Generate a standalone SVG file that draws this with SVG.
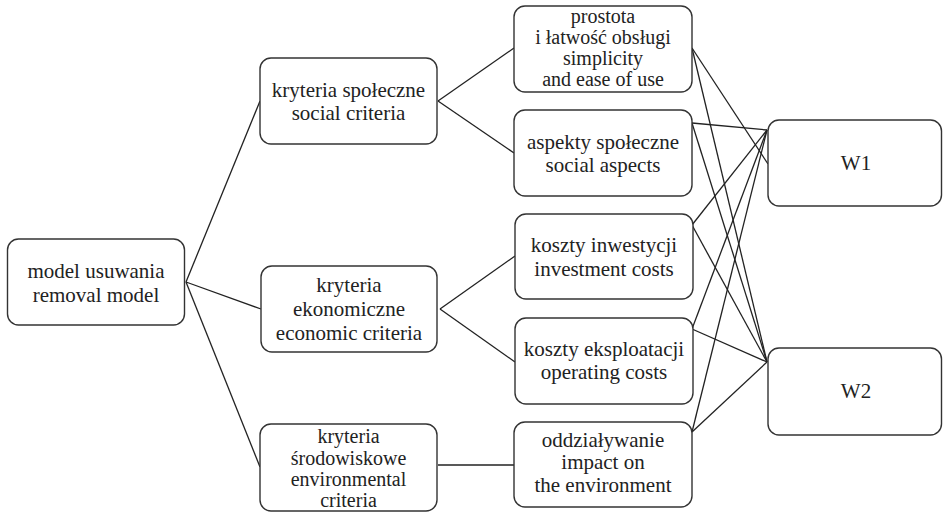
<svg xmlns="http://www.w3.org/2000/svg" width="943" height="513" viewBox="0 0 943 513">
<style>
.box{fill:#fff;stroke:#333;stroke-width:1.4}
text{font-family:'Liberation Serif','DejaVu Serif',serif;font-size:21px;fill:#222;text-anchor:middle}
.s{font-size:20px}
.c{stroke:#222;stroke-width:1.3;fill:none}
</style>
<rect width="943" height="513" fill="#fff"/>
<g id="connectors">
<line class="c" x1="186" y1="282" x2="260" y2="101"/>
<line class="c" x1="186" y1="282" x2="261" y2="309"/>
<line class="c" x1="186" y1="282" x2="260" y2="467"/>
<line class="c" x1="438" y1="101" x2="514" y2="48"/>
<line class="c" x1="438" y1="101" x2="514" y2="153"/>
<line class="c" x1="440" y1="309" x2="515" y2="256"/>
<line class="c" x1="440" y1="309" x2="515" y2="362"/>
<line class="c" x1="438" y1="465" x2="514" y2="465"/>
<line class="c" x1="692" y1="48" x2="768" y2="164"/>
<line class="c" x1="692" y1="48" x2="767" y2="362"/>
<line class="c" x1="692" y1="123" x2="767" y2="130"/>
<line class="c" x1="692" y1="123" x2="767" y2="362"/>
<line class="c" x1="692" y1="225" x2="767" y2="130"/>
<line class="c" x1="692" y1="225" x2="767" y2="362"/>
<line class="c" x1="692" y1="329" x2="767" y2="130"/>
<line class="c" x1="692" y1="329" x2="767" y2="362"/>
<line class="c" x1="692" y1="432" x2="767" y2="130"/>
<line class="c" x1="692" y1="432" x2="767" y2="362"/>
</g>
<g id="root">
<rect class="box" x="7.5" y="239" width="177" height="86" rx="11"/>
<text x="96" y="278">model usuwania</text>
<text x="96" y="302">removal model</text>
</g>
<g id="social">
<rect class="box" x="260" y="58" width="177" height="86" rx="11"/>
<text x="348.5" y="97">kryteria społeczne</text>
<text x="348.5" y="120">social criteria</text>
</g>
<g id="economic">
<rect class="box" x="261" y="266" width="176" height="86" rx="11"/>
<text x="349" y="292">kryteria</text>
<text x="349" y="316">ekonomiczne</text>
<text x="349" y="340">economic criteria</text>
</g>
<g id="environmental">
<rect class="box" x="260" y="424" width="177" height="87" rx="11"/>
<text class="s" x="348.5" y="443">kryteria</text>
<text class="s" x="348.5" y="465">środowiskowe</text>
<text class="s" x="348.5" y="486">environmental</text>
<text class="s" x="348.5" y="507">criteria</text>
</g>
<g id="simplicity">
<rect class="box" x="514" y="6" width="178" height="86" rx="11"/>
<text class="s" x="603" y="23">prostota</text>
<text class="s" x="603" y="44">i łatwość obsługi</text>
<text class="s" x="603" y="65">simplicity</text>
<text class="s" x="603" y="86">and ease of use</text>
</g>
<g id="social-aspects">
<rect class="box" x="514" y="110" width="178" height="86" rx="11"/>
<text x="603" y="149">aspekty społeczne</text>
<text x="603" y="172">social aspects</text>
</g>
<g id="investment">
<rect class="box" x="515" y="214" width="178" height="85" rx="11"/>
<text x="604" y="252">koszty inwestycji</text>
<text x="604" y="276">investment costs</text>
</g>
<g id="operating">
<rect class="box" x="515" y="318" width="178" height="86" rx="11"/>
<text x="604" y="356">koszty eksploatacji</text>
<text x="604" y="379">operating costs</text>
</g>
<g id="impact">
<rect class="box" x="514" y="422" width="178" height="85" rx="11"/>
<text x="603" y="447">oddziaływanie</text>
<text x="603" y="469">impact on</text>
<text x="603" y="492">the environment</text>
</g>
<g id="W1">
<rect class="box" x="768" y="120" width="173.5" height="86" rx="11"/>
<text x="856" y="170">W1</text>
</g>
<g id="W2">
<rect class="box" x="768" y="348" width="173.5" height="87" rx="11"/>
<text x="856" y="398">W2</text>
</g>
</svg>
